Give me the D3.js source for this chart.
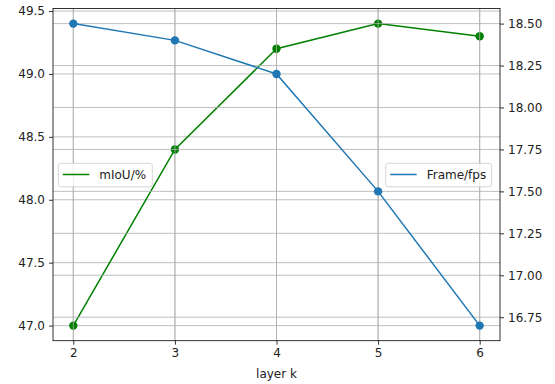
<!DOCTYPE html>
<html><head><meta charset="utf-8">
<script src="https://cdn.jsdelivr.net/npm/d3@7"></script>
<style>body{margin:0;background:#fff}svg{display:block;font-family:"DejaVu Sans",sans-serif}</style>
</head><body><svg id="c" width="555" height="384"></svg>
<script>
const layers = [2, 3, 4, 5, 6];
const miou = [47.0, 48.4, 49.2, 49.4, 49.3];
const fps = [18.5, 18.4, 18.2, 17.5, 16.7];
const leftTicks = [47.0, 47.5, 48.0, 48.5, 49.0, 49.5];
const rightTicks = [16.75, 17.00, 17.25, 17.50, 17.75, 18.00, 18.25, 18.50];
const xTicks = [2, 3, 4, 5, 6];

const svg = d3.select("#c");
const L = 53, R = 500, T = 8.5, B = 340.7;
const x = d3.scaleLinear().domain([1.8, 6.2]).range([L, R]);
const yL = d3.scaleLinear().domain([46.88, 49.52]).range([B, T]);
const yR = d3.scaleLinear().domain([16.61, 18.59]).range([B, T]);
const grid = "#b0b0b0";

// ax1 grid
const g1 = svg.append("g").attr("stroke", grid).attr("stroke-width", 0.8);
leftTicks.forEach(v => g1.append("line").attr("x1", L).attr("x2", R).attr("y1", yL(v)).attr("y2", yL(v)));
xTicks.forEach(v => g1.append("line").attr("y1", T).attr("y2", B).attr("x1", x(v)).attr("x2", x(v)));

// green line
const line1 = d3.line().x((d, i) => x(layers[i])).y(d => yL(d));
svg.append("path").datum(miou).attr("d", line1).attr("fill", "none").attr("stroke", "green").attr("stroke-width", 1.5);
svg.selectAll(".p1").data(miou).enter().append("circle").attr("cx", (d, i) => x(layers[i])).attr("cy", d => yL(d)).attr("r", 4.2).attr("fill", "green");

// ax2 grid
const g2 = svg.append("g").attr("stroke", grid).attr("stroke-width", 0.8);
rightTicks.forEach(v => g2.append("line").attr("x1", L).attr("x2", R).attr("y1", yR(v)).attr("y2", yR(v)));
xTicks.forEach(v => g2.append("line").attr("y1", T).attr("y2", B).attr("x1", x(v)).attr("x2", x(v)));

// blue line
const line2 = d3.line().x((d, i) => x(layers[i])).y(d => yR(d));
svg.append("path").datum(fps).attr("d", line2).attr("fill", "none").attr("stroke", "#1f77b4").attr("stroke-width", 1.5);
svg.selectAll(".p2").data(fps).enter().append("circle").attr("cx", (d, i) => x(layers[i])).attr("cy", d => yR(d)).attr("r", 4.2).attr("fill", "#1f77b4");

// axes
const axL = d3.axisLeft(yL).tickValues(leftTicks).tickFormat(d3.format(".1f")).tickSizeOuter(0).tickSize(4).tickPadding(4);
const axR = d3.axisRight(yR).tickValues(rightTicks).tickFormat(d3.format(".2f")).tickSizeOuter(0).tickSize(4).tickPadding(4);
const axB = d3.axisBottom(x).tickValues(xTicks).tickFormat(d3.format("d")).tickSizeOuter(0).tickSize(4).tickPadding(4);
function style(g) {
  g.select(".domain").remove();
  g.selectAll("line").attr("stroke", "#000").attr("stroke-width", 0.8);
  g.selectAll("text").attr("fill", "#222").style("font-size", "12px").style("font-family", "DejaVu Sans");
}
svg.append("g").attr("transform", `translate(${L},0)`).call(axL).call(style);
svg.append("g").attr("transform", `translate(${R},0)`).call(axR).call(style);
svg.append("g").attr("transform", `translate(0,${B})`).call(axB).call(style);

// spines
svg.append("rect").attr("x", L).attr("y", T).attr("width", R - L).attr("height", B - T)
  .attr("fill", "none").attr("stroke", "#000").attr("stroke-width", 0.8);

svg.append("text").attr("x", (L + R) / 2).attr("y", 378).attr("text-anchor", "middle")
  .style("font-size", "12px").attr("fill", "#222").text("layer k");

// legends
function legend(x0, w, color, label) {
  const g = svg.append("g");
  g.append("rect").attr("x", x0).attr("y", 163.3).attr("width", w).attr("height", 23.5).attr("rx", 2.5)
    .attr("fill", "rgba(255,255,255,0.8)").attr("stroke", "#cccccc").attr("stroke-width", 0.8);
  g.append("line").attr("x1", x0 + 4.5).attr("x2", x0 + 31).attr("y1", 174.5).attr("y2", 174.5)
    .attr("stroke", color).attr("stroke-width", 1.5);
  g.append("text").attr("x", x0 + 41).attr("y", 179).style("font-size", "12px").attr("fill", "#222").text(label);
}
legend(58.3, 94, "green", "mIoU/%");
legend(385.7, 106, "#1f77b4", "Frame/fps");
</script></body></html>
